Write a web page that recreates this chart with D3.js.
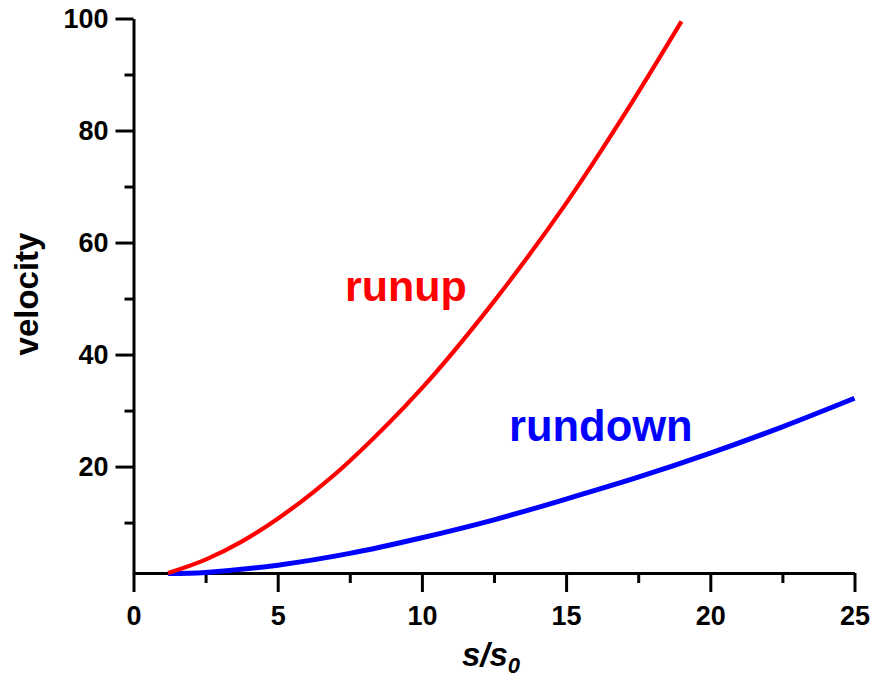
<!DOCTYPE html>
<html>
<head>
<meta charset="utf-8">
<script src="https://cdn.jsdelivr.net/npm/d3@7"></script>
<style>
  body { margin: 0; background: #fff; }
  svg { display: block; font-family: "Liberation Sans", Arial, Helvetica, sans-serif; font-weight: bold; }
  .axis path, .axis line { stroke: #000; stroke-width: 3; }
  .axis text { fill: #000; font-size: 27px; font-weight: bold; }
</style>
</head>
<body>
<div id="vis"></div>
<script>
// values (s/s0, velocity)
const runupS = [1.2, 2.5, 3.75, 5, 6.25, 7.5, 10, 12.5, 15, 17, 19];
const runupV = [1.0, 3.4, 6.6, 10.7, 15.5, 21.0, 34.0, 49.5, 67.0, 82.7, 99.5];
const rundownS = [1.2, 2.5, 5, 7.5, 10, 12.5, 15, 17.5, 20, 22.5, 25];
const rundownV = [0.9, 1.1, 2.4, 4.5, 7.3, 10.5, 14.2, 18.1, 22.4, 27.1, 32.2];

const xMajorTicks = [0, 5, 10, 15, 20, 25];
const xMinorTicks = [2.5, 7.5, 12.5, 17.5, 22.5];
const yMajorTicks = [20, 40, 60, 80, 100];
const yMinorTicks = [10, 30, 50, 70, 90];

const width = 875;
const height = 680;
const margin = { top: 18.5, right: 20.5, bottom: 107, left: 133.5 };

const x = d3.scaleLinear().domain([0, 25]).range([margin.left, width - margin.right]);
const y = d3.scaleLinear().domain([1, 100]).range([height - margin.bottom, margin.top]);

const svg = d3.select("#vis").append("svg")
  .attr("width", width)
  .attr("height", height)
  .attr("viewBox", [0, 0, width, height]);

// minor ticks first, no labels
svg.append("g")
  .attr("class", "axis")
  .attr("transform", `translate(0,${y(1)})`)
  .call(d3.axisBottom(x).tickValues(xMinorTicks).tickSize(10).tickSizeOuter(0).tickFormat(""))
  .call((g) => g.select(".domain").remove());

svg.append("g")
  .attr("class", "axis")
  .attr("transform", `translate(${x(0)},0)`)
  .call(d3.axisLeft(y).tickValues(yMinorTicks).tickSize(9).tickSizeOuter(0).tickFormat(""))
  .call((g) => g.select(".domain").remove());

svg.append("g")
  .attr("class", "axis")
  .attr("transform", `translate(0,${y(1)})`)
  .call(d3.axisBottom(x).tickValues(xMajorTicks).tickSize(19).tickSizeOuter(0).tickPadding(14));

svg.append("g")
  .attr("class", "axis")
  .attr("transform", `translate(${x(0)},0)`)
  .call(d3.axisLeft(y).tickValues(yMajorTicks).tickSize(18).tickSizeOuter(0).tickPadding(7));

const line = d3.line()
  .x((d) => x(d[0]))
  .y((d) => y(d[1]))
  .curve(d3.curveCatmullRom);

svg.append("path")
  .datum(d3.zip(rundownS, rundownV))
  .attr("fill", "none")
  .attr("stroke", "#0000ff")
  .attr("stroke-width", 5)
  .attr("d", line);

svg.append("path")
  .datum(d3.zip(runupS, runupV))
  .attr("fill", "none")
  .attr("stroke", "#ff0000")
  .attr("stroke-width", 4.2)
  .attr("d", line);

svg.append("text")
  .attr("x", 345)
  .attr("y", 301)
  .attr("fill", "#ff0000")
  .attr("font-size", 43)
  .text("runup");

svg.append("text")
  .attr("x", 509)
  .attr("y", 441)
  .attr("fill", "#0000ff")
  .attr("font-size", 43.5)
  .text("rundown");

// axis titles
svg.append("text")
  .attr("transform", "translate(38,294) rotate(-90)")
  .attr("text-anchor", "middle")
  .attr("font-size", 33)
  .text("velocity");

const xTitle = svg.append("text")
  .attr("x", 491)
  .attr("y", 666)
  .attr("text-anchor", "middle")
  .attr("font-size", 33)
  .attr("font-style", "italic");
xTitle.append("tspan").text("s/s");
xTitle.append("tspan").attr("font-size", 22).attr("dy", 7).text("0");
</script>
</body>
</html>
